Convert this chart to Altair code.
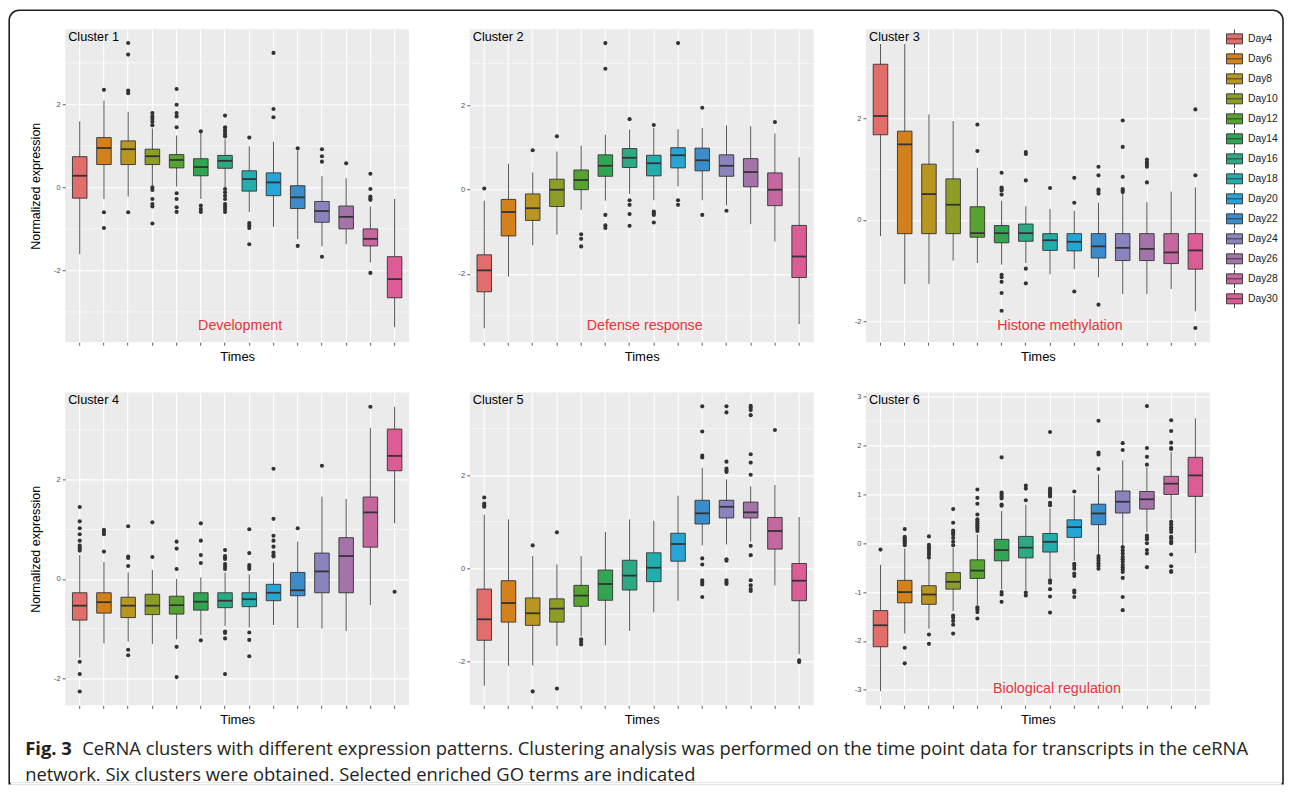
import altair as alt
import pandas as pd

DAYS = ["Day4", "Day6", "Day8", "Day10", "Day12", "Day14", "Day16", "Day18",
        "Day20", "Day22", "Day24", "Day26", "Day28", "Day30"]
COLORS = ["#E16E6B", "#D3811C", "#B89620", "#8F9D27", "#56A332", "#31A552", "#2CAA86",
          "#23AEAE", "#26A6D7", "#3B8CCA", "#8A84BE", "#A474A9", "#C4689F", "#DC5D95"]

# ---- Cluster 1 ----
C1_LOW = [-1.61, -0.28, -0.22, 0.04, 0.02, -0.28, 0.00, -0.59, -0.95, -1.25, -1.42, -1.37, -1.81, -3.37]
C1_Q1 = [-0.26, 0.55, 0.55, 0.55, 0.47, 0.28, 0.46, -0.09, -0.20, -0.51, -0.84, -1.00, -1.41, -2.66]
C1_MED = [0.28, 0.95, 0.92, 0.75, 0.66, 0.49, 0.64, 0.20, 0.12, -0.24, -0.57, -0.71, -1.24, -2.21]
C1_Q3 = [0.74, 1.20, 1.12, 0.92, 0.79, 0.69, 0.77, 0.40, 0.35, 0.04, -0.34, -0.45, -1.00, -1.67]
C1_UP = [1.59, 2.09, 1.82, 1.42, 1.25, 1.33, 1.16, 0.99, 1.10, 0.88, 0.27, 0.22, -0.46, -0.28]
C1_OUT = [[], [2.35, -0.60, -0.98], [3.48, 3.20, 2.33, 2.27, -0.60],
          [1.79, 1.71, 1.65, 1.58, 1.50, 0.00, -0.06, -0.28, -0.40, -0.46, -0.87],
          [2.37, 1.99, 1.79, 1.71, 1.45, -0.14, -0.28, -0.48, -0.59],
          [1.35, -0.44, -0.52, -0.59],
          [1.73, 1.45, 1.39, 1.34, 1.28, 1.23, -0.04, -0.12, -0.20, -0.28, -0.40, -0.46, -0.52, -0.59],
          [1.20, -0.86, -0.92, -0.98, -1.37], [3.24, 1.89, 1.69], [0.94, -1.41],
          [0.92, 0.75, 0.62, -1.67], [0.58], [0.33, -0.04, -0.22, -0.27, -0.30, -2.06], []]

# ---- Cluster 2 ----
C2_LOW = [-3.30, -2.07, -1.32, -1.07, -0.48, -0.26, -0.10, -0.25, 0.08, -0.25, -0.37, -0.82, -1.23, -3.20]
C2_Q1 = [-2.43, -1.10, -0.73, -0.40, 0.00, 0.32, 0.53, 0.33, 0.52, 0.45, 0.32, 0.07, -0.38, -2.09]
C2_MED = [-1.92, -0.53, -0.44, 0.00, 0.23, 0.57, 0.76, 0.63, 0.82, 0.70, 0.57, 0.42, 0.00, -1.59]
C2_Q3 = [-1.55, -0.23, -0.10, 0.25, 0.47, 0.83, 0.98, 0.82, 1.00, 0.99, 0.83, 0.74, 0.40, -0.85]
C2_UP = [-0.26, 0.62, 0.41, 0.91, 1.05, 1.31, 1.43, 1.47, 1.44, 1.47, 1.53, 1.51, 1.34, 0.77]
C2_OUT = [[0.03], [], [0.94], [1.27], [-1.06, -1.17, -1.35], [3.49, 2.88, -0.60, -0.85, -0.91],
          [1.68, -0.25, -0.36, -0.58, -0.86], [1.54, -0.52, -0.56, -0.60, -0.78],
          [3.49, -0.25, -0.36], [1.95, -0.60], [-0.50], [], [1.61], []]

# ---- Cluster 3 ----
C3_LOW = [-0.32, -1.26, -1.26, -0.80, -0.85, -0.88, -0.85, -1.07, -0.97, -1.13, -1.46, -1.46, -1.36, -1.80]
C3_Q1 = [1.68, -0.27, -0.27, -0.27, -0.34, -0.45, -0.42, -0.60, -0.61, -0.75, -0.80, -0.80, -0.86, -0.97]
C3_MED = [2.05, 1.49, 0.51, 0.30, -0.26, -0.26, -0.26, -0.40, -0.43, -0.52, -0.55, -0.57, -0.64, -0.60]
C3_Q3 = [3.07, 1.75, 1.10, 0.81, 0.26, -0.11, -0.08, -0.27, -0.27, -0.27, -0.27, -0.27, -0.27, -0.27]
C3_UP = [3.47, 3.47, 2.08, 1.95, 1.03, 0.38, 0.27, 0.22, 0.18, 0.34, 0.51, 0.35, 0.56, 0.64]
C3_OUT = [[], [], [], [], [1.88, 1.36], [0.93, 0.64, 0.61, 0.58, 0.50, -1.08, -1.13, -1.22, -1.44, -1.79],
          [1.34, 1.30, 0.78, -0.96, -1.25], [0.63], [0.83, 0.34, -1.41],
          [1.05, 0.88, 0.60, 0.57, 0.52, -1.67], [1.96, 1.44, 0.85, 0.61, 0.58, 0.55],
          [1.19, 1.14, 1.09, 1.05, 0.74], [], [2.18, 0.88, -2.13]]

# ---- Cluster 4 ----
C4_LOW = [-1.59, -1.30, -1.26, -1.31, -1.22, -1.13, -0.95, -0.98, -0.93, -0.99, -1.00, -1.05, -0.53, 1.12]
C4_Q1 = [-0.83, -0.69, -0.78, -0.72, -0.71, -0.63, -0.58, -0.56, -0.44, -0.34, -0.28, -0.28, 0.64, 2.18]
C4_MED = [-0.54, -0.47, -0.54, -0.54, -0.53, -0.46, -0.44, -0.41, -0.28, -0.23, 0.15, 0.46, 1.34, 2.48]
C4_Q3 = [-0.28, -0.28, -0.37, -0.31, -0.35, -0.28, -0.28, -0.28, -0.11, 0.13, 0.52, 0.83, 1.65, 3.02]
C4_UP = [0.48, 0.34, 0.13, 0.18, 0.00, 0.03, 0.13, 0.09, 0.33, 0.75, 1.66, 1.61, 3.04, 3.47]
C4_OUT = [[1.45, 1.16, 1.02, 0.90, 0.77, 0.67, 0.62, 0.57, -1.67, -1.92, -2.27],
          [0.99, 0.95, 0.90, 0.55], [1.06, 0.45, 0.42, 0.26, -1.43, -1.54], [1.14, 0.44],
          [0.75, 0.61, 0.20, -1.37, -1.98], [1.12, 0.77, 0.48, 0.32, -1.24],
          [0.58, 0.46, 0.43, 0.40, 0.30, 0.25, 0.20, -1.06, -1.09, -1.20, -1.92],
          [1.00, 0.52, 0.28, 0.24, 0.20, -1.08, -1.23, -1.56],
          [2.22, 1.21, 0.87, 0.77, 0.65, 0.53, 0.48, 0.45], [1.02], [2.28], [], [3.47], [-0.26]]

# ---- Cluster 5 ----
C5_LOW = [-2.53, -2.10, -2.09, -1.67, -1.46, -1.66, -1.35, -0.95, -0.70, 0.49, 0.51, 0.57, -0.37, -1.85]
C5_Q1 = [-1.55, -1.16, -1.23, -1.16, -0.82, -0.69, -0.47, -0.29, 0.15, 0.95, 1.08, 1.08, 0.41, -0.70]
C5_MED = [-1.10, -0.75, -0.97, -0.87, -0.59, -0.34, -0.16, 0.01, 0.52, 1.18, 1.32, 1.20, 0.80, -0.27]
C5_Q3 = [-0.45, -0.27, -0.64, -0.66, -0.37, -0.04, 0.17, 0.33, 0.75, 1.46, 1.46, 1.42, 1.09, 0.10]
C5_UP = [1.15, 1.05, 0.26, 0.08, 0.26, 0.78, 1.05, 1.02, 1.56, 2.16, 1.91, 1.76, 1.79, 1.10]
C5_OUT = [[1.52, 1.39, 1.35, 1.32], [], [0.49, -2.65], [0.77, -2.59], [-1.53, -1.58, -1.64],
          [], [], [], [], [3.48, 2.94, 2.42, 2.38, 0.21, 0.08, -0.26, -0.31, -0.35, -0.62],
          [3.48, 3.35, 2.29, 2.14, 2.10, 2.07, 0.19, 0.16, -0.26, -0.31, -0.34],
          [3.49, 3.45, 3.40, 3.29, 2.45, 2.27, 2.01, 0.48, 0.28, -0.26, -0.37, -0.45, -0.49],
          [2.97], [-1.98, -2.02]]

# ---- Cluster 6 ----
C6_LOW = [-3.03, -1.85, -1.75, -1.39, -1.26, -0.94, -0.96, -0.71, -0.36, -0.22, -0.04, 0.23, 0.49, -0.20]
C6_Q1 = [-2.12, -1.22, -1.25, -0.94, -0.72, -0.36, -0.30, -0.18, 0.12, 0.38, 0.62, 0.70, 1.00, 0.96]
C6_MED = [-1.68, -1.00, -1.05, -0.79, -0.56, -0.14, -0.09, 0.03, 0.33, 0.61, 0.85, 0.90, 1.22, 1.39]
C6_Q3 = [-1.38, -0.76, -0.87, -0.60, -0.34, 0.08, 0.14, 0.20, 0.48, 0.80, 1.07, 1.06, 1.37, 1.76]
C6_UP = [-0.44, -0.11, -0.31, -0.09, 0.18, 0.66, 0.79, 0.71, 0.98, 1.41, 1.70, 1.55, 1.87, 2.56]
C6_OUT = [[-0.13], [0.29, 0.13, 0.10, 0.06, 0.03, 0.00, -0.04, -2.14, -2.46],
          [0.14, -0.03, -0.08, -0.13, -0.18, -0.23, -0.29, -1.87, -2.06],
          [0.70, 0.42, 0.26, 0.22, 0.18, 0.11, 0.03, -0.04, -1.48, -1.52, -1.59, -1.67, -1.85],
          [1.10, 0.93, 0.81, 0.59, 0.49, 0.45, 0.41, 0.37, 0.33, 0.29, 0.25, -1.31, -1.35, -1.41, -1.54],
          [1.76, 1.04, 1.00, 0.96, 0.92, 0.79, 0.77, -1.00, -1.05, -1.20],
          [1.18, 1.12, 0.88, -1.01, -1.07],
          [2.28, 1.12, 1.08, 1.04, 1.00, 0.96, 0.83, 0.78, -0.76, -0.81, -0.94, -1.09, -1.42],
          [1.06, -0.42, -0.46, -0.52, -0.62, -0.67, -0.97, -1.01, -1.10],
          [2.51, 1.86, 1.82, 1.52, -0.26, -0.31, -0.36, -0.41, -0.46, -0.52],
          [2.05, 1.91, -0.08, -0.15, -0.21, -0.28, -0.33, -0.38, -0.44, -0.49, -0.54, -0.59, -0.71, -1.10, -1.37],
          [2.81, 1.95, 1.77, 1.61, 0.16, 0.12, 0.08, 0.00, -0.14, -0.21, -0.49],
          [2.52, 2.30, 2.06, 1.95, 1.93, 0.44, 0.39, 0.33, 0.28, 0.23, 0.13, 0.10, 0.04, 0.00,
           -0.23, -0.47, -0.57, -0.59], []]

Y_DOMAINS = [[-3.73, 3.81], [-3.63, 3.82], [-2.41, 3.76], [-2.55, 3.76], [-2.95, 3.78], [-3.32, 3.09]]
MAJOR_TICKS = [[-2, 0, 2], [-2, 0, 2], [-2, 0, 2], [-2, 0, 2], [-2, 0, 2], [-3, -2, -1, 0, 1, 2, 3]]
MINOR_GRID = [[-3, -1, 1, 3], [-3, -1, 1, 3], [-1, 1, 3], [-1, 1, 3], [-1, 1, 3],
              [-2.5, -1.5, -0.5, 0.5, 1.5, 2.5]]
GO_TERMS = ["Development", "Defense response", "Histone methylation", "", "", "Biological regulation"]
GO_X = [175, 175, 194, 0, 0, 191]
Y_TITLE = "Normalized expression"
X_TITLE = "Times"
CAPTION_BOLD = "Fig. 3"
CAPTION_LINE1 = ("CeRNA clusters with different expression patterns. Clustering analysis was performed "
                 "on the time point data for transcripts in the ceRNA")
CAPTION_LINE2 = "network. Six clusters were obtained. Selected enriched GO terms are indicated"

W, H = 344, 313
FONT = "Liberation Sans"
CAP_FONT = "Open Sans"
BOX_PATH = "M-0.8,-0.5H0.8V0.5H-0.8Z M-0.8,0H0.8 M0,-0.5V-0.95 M0,0.5V0.95"
FRAME_W = 1.6


def panel(i, low, q1, med, q3, up, outs):
    box = pd.DataFrame({"day": DAYS, "low": low, "q1": q1, "med": med, "q3": q3, "up": up})
    odf = pd.DataFrame([{"day": d, "v": v} for d, vals in zip(DAYS, outs) for v in vals],
                       columns=["day", "v"])
    mdf = pd.DataFrame({"v": MINOR_GRID[i]})
    ysc = alt.Scale(domain=Y_DOMAINS[i], nice=False, zero=False)
    ytitle = Y_TITLE if i in (0, 3) else None
    yax = alt.Axis(values=MAJOR_TICKS[i], labelExpr="'' + datum.value", labelFontSize=7.5,
                   labelColor="#4D4D4D", labelFont=FONT, labelPadding=2, tickSize=3,
                   tickColor="#333333", tickWidth=0.8, domain=False, grid=True,
                   gridColor="white", gridWidth=1.1, title=ytitle, titleFont=FONT,
                   titleFontSize=12.5, titleFontWeight="normal", titleColor="black",
                   titlePadding=11)
    xax = alt.Axis(labels=False, ticks=True, tickSize=3, tickColor="#333333", tickWidth=0.8,
                   domain=False, grid=True, gridColor="white", gridWidth=1.1, bandPosition=0.5,
                   title=X_TITLE, titleFont=FONT, titleFontSize=13, titleFontWeight="normal",
                   titleColor="black", titlePadding=5)
    xsc = alt.Scale(domain=DAYS, paddingInner=0.4, paddingOuter=0.3)
    X = alt.X("day:N", sort=DAYS, scale=xsc, axis=xax)

    legend = alt.Legend(title=None, orient="none", legendX=1159, legendY=0,
                        symbolType=BOX_PATH, symbolSize=400, symbolStrokeColor="#333333",
                        symbolStrokeWidth=0.9, labelFontSize=10.3, labelFont=FONT,
                        labelColor="#1A1A1A", rowPadding=0, clipHeight=19.2, labelOffset=3,
                        padding=0)

    minor = alt.Chart(mdf).mark_rule(color="white", strokeWidth=0.55).encode(
        y=alt.Y("v:Q", scale=ysc, axis=yax))
    whisk = alt.Chart(box).mark_rule(color="#3A3A3A", strokeWidth=0.85).encode(
        x=X, y=alt.Y("low:Q", scale=ysc, axis=yax), y2="up:Q")
    bars = alt.Chart(box).mark_bar(stroke="#333333", strokeWidth=0.9).encode(
        x=X, y=alt.Y("q1:Q", scale=ysc, axis=yax), y2="q3:Q",
        color=alt.Color("day:N", sort=DAYS, scale=alt.Scale(domain=DAYS, range=COLORS),
                        legend=legend))
    meds = alt.Chart(box).mark_tick(color="#333333", thickness=1.8, size=14.5, opacity=1).encode(
        x=X, y=alt.Y("med:Q", scale=ysc, axis=yax))
    pts = alt.Chart(odf).mark_circle(color="#333333", size=17, opacity=1).encode(
        x=X, y=alt.Y("v:Q", scale=ysc, axis=yax))
    lab = alt.Chart(pd.DataFrame({"t": [f"Cluster {i + 1}"]})).mark_text(
        align="left", baseline="alphabetic", font=FONT, fontSize=12.7, color="black").encode(
        x=alt.value(3), y=alt.value(11.5), text="t:N")
    layers = [minor, whisk, bars, meds, pts, lab]
    if GO_TERMS[i]:
        go = alt.Chart(pd.DataFrame({"t": [GO_TERMS[i]]})).mark_text(
            align="center", baseline="alphabetic", font=FONT, fontSize=14.3,
            color="#E5343C").encode(x=alt.value(GO_X[i]), y=alt.value(301), text="t:N")
        layers.append(go)
    if i in (0, 3):
        # invisible left anchor so the rows line up with the figure frame
        anchor = alt.Chart(pd.DataFrame({"a": [0]})).mark_rule(
            opacity=0, strokeWidth=FRAME_W).encode(
            x=alt.value(-56), y=alt.value(0), y2=alt.value(1))
        layers.append(anchor)
    return alt.layer(*layers).properties(
        width=W, height=H, view=alt.ViewBackground(fill="#EBEBEB", strokeWidth=0))


p1 = panel(0, C1_LOW, C1_Q1, C1_MED, C1_Q3, C1_UP, C1_OUT)
p2 = panel(1, C2_LOW, C2_Q1, C2_MED, C2_Q3, C2_UP, C2_OUT)
p3 = panel(2, C3_LOW, C3_Q1, C3_MED, C3_Q3, C3_UP, C3_OUT)
p4 = panel(3, C4_LOW, C4_Q1, C4_MED, C4_Q3, C4_UP, C4_OUT)
p5 = panel(4, C5_LOW, C5_Q1, C5_MED, C5_Q3, C5_UP, C5_OUT)
p6 = panel(5, C6_LOW, C6_Q1, C6_MED, C6_Q3, C6_UP, C6_OUT)

row1 = alt.hconcat(p1, alt.hconcat(p2, p3, spacing=39.3), spacing=47.6)
row2 = alt.hconcat(p4, alt.hconcat(p5, p6, spacing=39.3), spacing=47.6)

one = pd.DataFrame({"a": [0]})
frame = alt.Chart(one).mark_rect(fillOpacity=0, stroke="#231F20", strokeWidth=FRAME_W,
                                 cornerRadiusTopLeft=10, cornerRadiusTopRight=10).encode(
    x=alt.value(-56), x2=alt.value(1218), y=alt.value(-720), y2=alt.value(53.5))
cover = alt.Chart(one).mark_rule(color="white", strokeWidth=2.4).encode(
    x=alt.value(-54.5), x2=alt.value(1216.5), y=alt.value(53.5))
cap_b = alt.Chart(pd.DataFrame({"t": [CAPTION_BOLD]})).mark_text(
    align="left", baseline="alphabetic", font=CAP_FONT, fontWeight="bold", fontSize=18.4,
    color="#231F20").encode(x=alt.value(-40), y=alt.value(25), text="t:N")
cap_1 = alt.Chart(pd.DataFrame({"t": [CAPTION_LINE1]})).mark_text(
    align="left", baseline="alphabetic", font=CAP_FONT, fontSize=18.4,
    color="#231F20").encode(x=alt.value(17), y=alt.value(25), text="t:N")
cap_2 = alt.Chart(pd.DataFrame({"t": [CAPTION_LINE2]})).mark_text(
    align="left", baseline="alphabetic", font=CAP_FONT, fontSize=18.4,
    color="#231F20").encode(x=alt.value(-40), y=alt.value(51), text="t:N")
caption = alt.layer(frame, cover, cap_b, cap_1, cap_2).properties(
    width=1100, height=50, view=alt.ViewBackground(fillOpacity=0, strokeWidth=0))

# caption row is pulled up so that its frame encloses the whole figure
CAPTION_SPACING = -718.0

chart = alt.vconcat(alt.vconcat(row1, row2, spacing=28.2), caption,
                    spacing=CAPTION_SPACING).properties(
    padding={"left": 0.2, "top": 1.2, "right": 0, "bottom": 0}
).configure_view(strokeWidth=0).configure(background="white")

chart.save("out.html", embed_options={"renderer": "svg", "actions": False})
